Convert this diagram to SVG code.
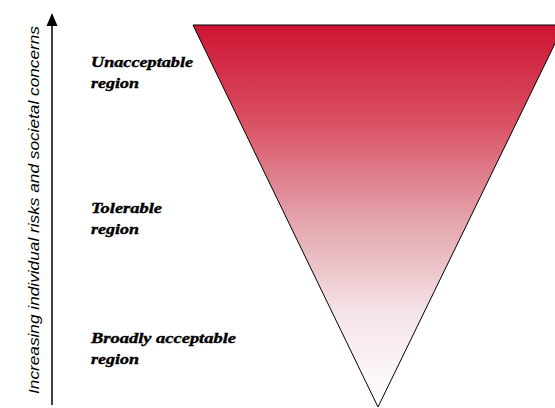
<svg xmlns="http://www.w3.org/2000/svg" width="555" height="408" viewBox="0 0 555 408">
<style>
.lbl{font-family:"Liberation Serif","Times New Roman",serif;font-weight:bold;font-style:italic;font-size:15px;fill:#000;stroke:#000;stroke-width:0.4}
.axis{font-family:"Liberation Sans",Arial,sans-serif;font-style:italic;font-size:14px;fill:#000}
</style>
<defs>
<linearGradient id="g" x1="0" y1="0" x2="0" y2="1">
<stop offset="0" stop-color="#CE1433"/>
<stop offset="0.25" stop-color="#D94F61"/>
<stop offset="0.5" stop-color="#E3A1AA"/>
<stop offset="0.75" stop-color="#F4E3E6"/>
<stop offset="1" stop-color="#FFFFFF"/>
</linearGradient>
</defs>
<rect width="555" height="408" fill="#fff"/>
<g id="triangle">
<polygon points="193,25 564,25 378,407" fill="url(#g)" stroke="#000" stroke-width="1"/>
</g>
<g id="connectors">
<line x1="52" y1="405" x2="52" y2="24" stroke="#000" stroke-width="1.5"/>
<polygon points="52,13 46.5,26 57.5,26" fill="#000"/>
</g>
<g id="axis-label">
<text class="axis" transform="translate(39,210) rotate(-90)" text-anchor="middle" textLength="368" lengthAdjust="spacingAndGlyphs">Increasing individual risks and societal concerns</text>
</g>
<g id="unacceptable">
<text class="lbl" x="91" y="67" textLength="102" lengthAdjust="spacingAndGlyphs">Unacceptable</text>
<text class="lbl" x="91" y="88" textLength="48" lengthAdjust="spacingAndGlyphs">region</text>
</g>
<g id="tolerable">
<text class="lbl" x="91" y="213" textLength="71" lengthAdjust="spacingAndGlyphs">Tolerable</text>
<text class="lbl" x="91" y="234" textLength="48" lengthAdjust="spacingAndGlyphs">region</text>
</g>
<g id="broadly">
<text class="lbl" x="91" y="343" textLength="145" lengthAdjust="spacingAndGlyphs">Broadly acceptable</text>
<text class="lbl" x="91" y="364" textLength="48" lengthAdjust="spacingAndGlyphs">region</text>
</g>
</svg>
